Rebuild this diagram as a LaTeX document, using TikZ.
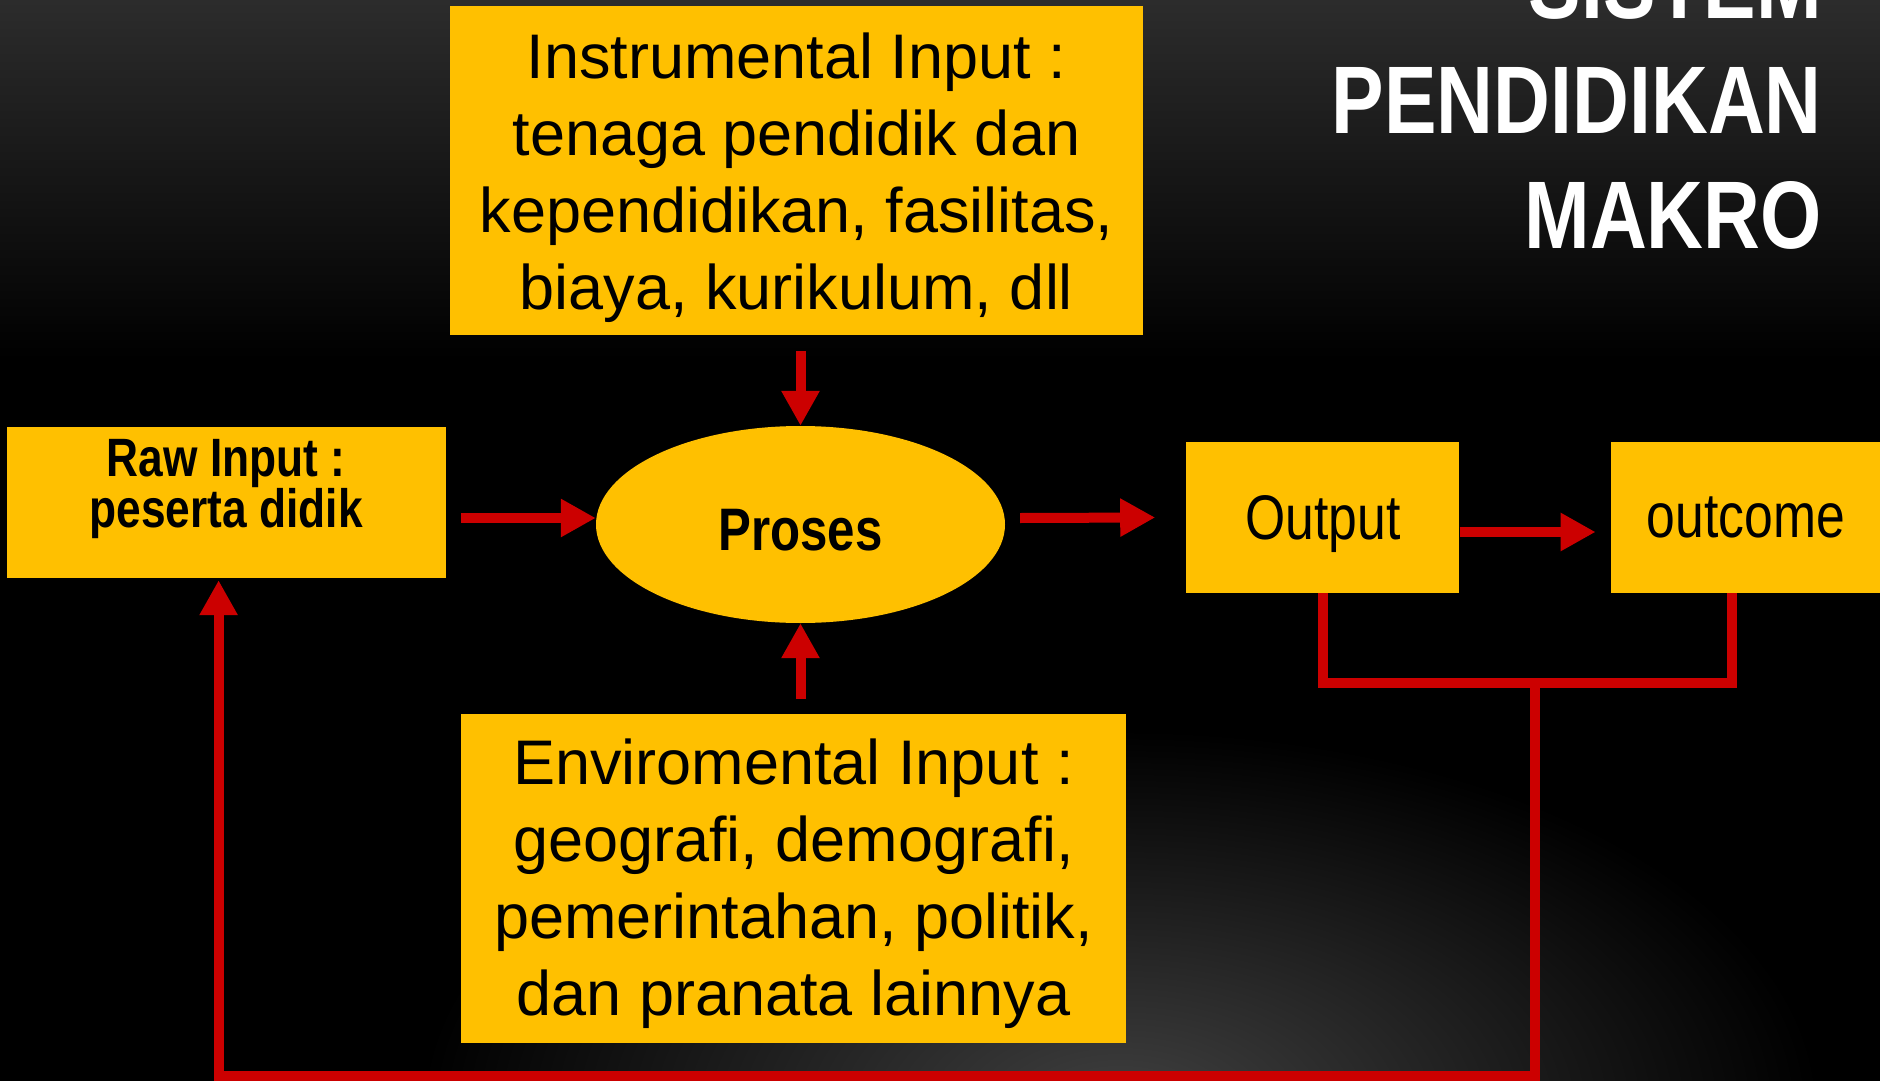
\documentclass[tikz,border=0pt]{standalone}
\usepackage{fontspec}
\setmainfont{Liberation Sans}
\newfontfamily\narrowfont[FakeStretch=0.82]{Liberation Sans}
\usetikzlibrary{positioning,shapes.geometric,arrows.meta}
\definecolor{boxyellow}{RGB}{255,192,0}
\definecolor{arrowred}{RGB}{204,0,0}
\definecolor{topgray}{RGB}{44,44,44}
\definecolor{glowgray}{RGB}{64,64,64}

\begin{document}
\begin{tikzpicture}[x=1pt, y=-1pt,
  main box/.style={fill=boxyellow, inner sep=0pt, align=center, font=\fontsize{63}{77}\selectfont},
  flow/.style={draw=arrowred, line width=10pt, -{Triangle[length=35pt,width=36pt]}},
  back line/.style={draw=arrowred, line width=10pt}]
% background
\clip (0,0) rectangle (1880,1081);
\fill[black] (0,0) rectangle (1880,1081);
\shade[top color=topgray, bottom color=black] (0,0) rectangle (1880,360);
\shade[inner color=glowgray, outer color=black] (1120,1110) ellipse [x radius=700, y radius=380];

\node[anchor=east, inner sep=0pt, align=right, text=white, font=\narrowfont\bfseries\fontsize{96}{115}\selectfont] (title) at (1822,100) {SISTEM\\PENDIDIKAN\\MAKRO};

% boxes
\node[main box, shape=ellipse, minimum width=409pt, minimum height=197pt, font=\narrowfont\bfseries\fontsize{60}{72}\selectfont] (proses) at (800.5,524.5) {\rule{0pt}{53pt}Proses};
\node[main box, minimum width=693pt, minimum height=329pt, above=91pt of proses, xshift=-4pt] (instr) {\rule{0pt}{60pt}Instrumental Input :\\tenaga pendidik dan\\kependidikan, fasilitas,\\biaya, kurikulum, dll};
\node[main box, minimum width=665pt, minimum height=329pt, below=91pt of proses, xshift=-7pt] (env) {\rule{0pt}{56pt}Enviromental Input :\\geografi, demografi,\\pemerintahan, politik,\\dan pranata lainnya};
\node[main box, minimum width=439pt, minimum height=151pt, left=150pt of proses, yshift=22pt] (raw) {};
\node[font=\narrowfont\bfseries\fontsize{54}{48}\selectfont, align=center, inner sep=0pt] (rawtext) at ([yshift=13.5pt]raw.center) {Raw Input :\\peserta didik};
\node[main box, minimum width=273pt, minimum height=151pt, right=181pt of proses, yshift=7pt, text depth=0pt, font=\narrowfont\fontsize{63}{77}\selectfont] (output) {Output};
\node[main box, minimum width=270pt, minimum height=151pt, right=151pt of output, text depth=0pt, font=\narrowfont\fontsize{63}{77}\selectfont] (outcome) {outcome};

% arrows
\draw[flow] ([xshift=15pt,yshift=-15.5pt]raw.east) -- ([yshift=6.5pt]proses.west);
\draw[flow] ([xshift=15pt,yshift=6.5pt]proses.east) -- ([xshift=-31pt]output.west);
\draw[flow] ([yshift=-14.5pt]output.east) -- ([xshift=-15pt,yshift=-14.5pt]outcome.west);
\draw[flow] ([xshift=4pt,yshift=-16pt]instr.south) -- (proses.north);
\draw[flow] ([xshift=7pt,yshift=15pt]env.north) -- (proses.south);

% feedback
\coordinate (fork) at (1535,683);
\coordinate (bottom) at (1535,1076);
\draw[back line] (output.south) |- (fork) -| ([xshift=-14pt]outcome.south);
\draw[flow] (fork) -- (bottom) -| ([xshift=-7.5pt,yshift=-2pt]raw.south);
\end{tikzpicture}
\end{document}
